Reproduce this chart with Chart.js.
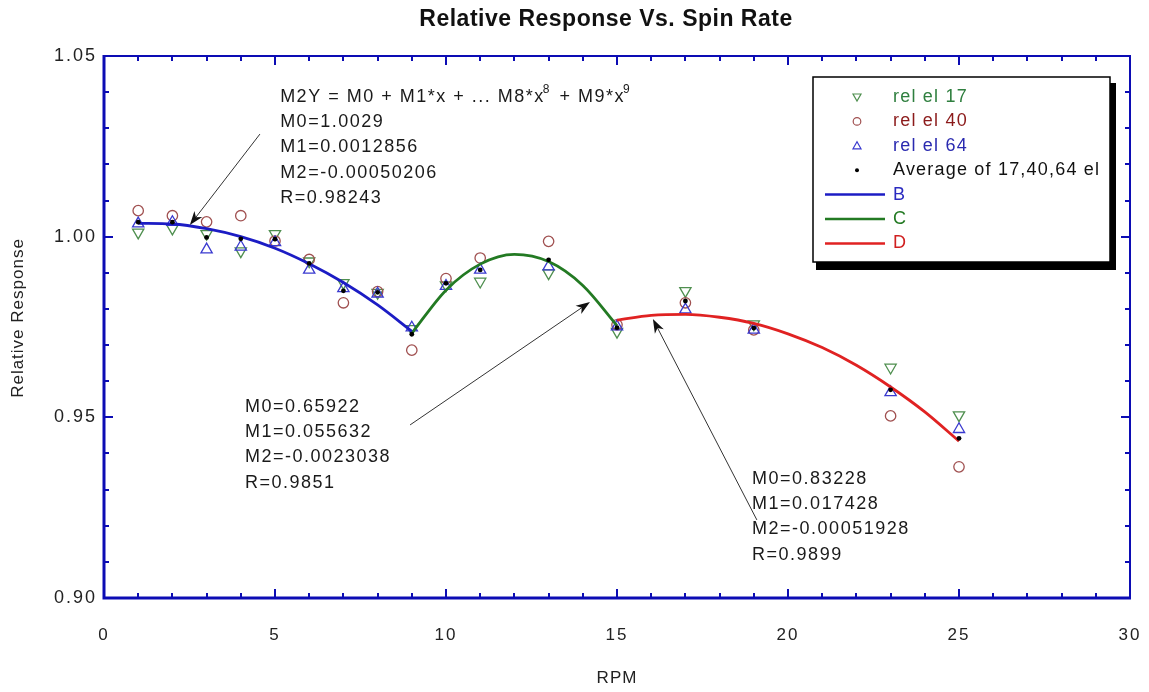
<!DOCTYPE html>
<html><head><meta charset="utf-8">
<script src="https://cdn.jsdelivr.net/npm/chart.js@4.4.1/dist/chart.umd.min.js"></script>
<style>html,body{margin:0;padding:0;background:#fff;}#wrap{width:1149px;height:692px;}</style>
</head><body><div id="wrap"><canvas id="c" width="1149" height="692"></canvas></div>
<script>
// ---- data ----
const rpm   = [1, 2, 3, 4, 5, 6, 7, 8, 9, 10, 11, 13, 15, 17, 19, 23, 25];
const rel17 = [1.0012, 1.0023, 1.0008, 0.9960, 1.0008, 0.9932, 0.9872, 0.9845, 0.9745, 0.9866, 0.9876, 0.9899, 0.9737, 0.9850, 0.9758, 0.9638, 0.9506];
const rel40 = [1.0072, 1.0058, 1.0041, 1.0058, 0.9988, 0.9937, 0.9817, 0.9848, 0.9686, 0.9884, 0.9941, 0.9987, 0.9756, 0.9817, 0.9742, 0.9504, 0.9363];
const rel64 = [1.0036, 1.0040, 0.9964, 0.9972, 0.9984, 0.9908, 0.9857, 0.9842, 0.9748, 0.9863, 0.9908, 0.9917, 0.9751, 0.9798, 0.9742, 0.9569, 0.9467];
const avgEl = [1.0040, 1.0040, 0.9998, 0.9994, 0.9993, 0.9926, 0.9850, 0.9846, 0.9730, 0.9871, 0.9908, 0.9936, 0.9748, 0.9822, 0.9747, 0.9576, 0.9442];

const fitBx = [1, 2, 3, 4, 5, 6, 7, 8, 9];
const fitBy = [1.0037, 1.0035, 1.0022, 1.0000, 0.9968, 0.9925, 0.9873, 0.9811, 0.9738];
const fitCx = [9, 10, 11, 12, 13, 14, 15];
const fitCy = [0.9733, 0.9852, 0.9924, 0.9951, 0.9931, 0.9865, 0.9754];
const fitDx = [15, 16, 17, 18, 19, 20, 21, 22, 23, 24, 25];
const fitDy = [0.9769, 0.9782, 0.9785, 0.9777, 0.9760, 0.9731, 0.9693, 0.9644, 0.9584, 0.9515, 0.9434];

const xTicks = [0, 5, 10, 15, 20, 25, 30];
const yTicks = [0.90, 0.95, 1.00, 1.05];

const seriesNames = ["rel el 17", "rel el 40", "rel el 64", "Average of 17,40,64 el", "B", "C", "D"];
const noteB = ["M0=1.0029", "M1=0.0012856", "M2=-0.00050206", "R=0.98243"];
const noteC = ["M0=0.65922", "M1=0.055632", "M2=-0.0023038", "R=0.9851"];
const noteD = ["M0=0.83228", "M1=0.017428", "M2=-0.00051928", "R=0.9899"];
// annotation anchors in data units [x, y]
const noteBpos = [5.15, 1.0387];
const noteCpos = [4.12, 0.9529];
const noteDpos = [18.95, 0.9330];
const arrows = [
  [[4.56, 1.0284], [2.51, 1.0032]],
  [[8.95, 0.9479], [14.21, 0.9819]],
  [[19.09, 0.9216], [16.05, 0.9772]]
];

const C17 = '#4f8f4f', C40 = '#a05050', C64 = '#3a3acf';
const CB = '#1c1cc4', CC = '#237a23', CD = '#e02222';
const FRAME = '#0c0cb4';
const FONT = '"Liberation Sans", Arial, sans-serif';

const pts = (xs, ys) => xs.map((x, i) => ({x: x, y: ys[i]}));

const spacing = {
  id: 'spacing',
  beforeDraw(chart) { chart.ctx.letterSpacing = '2px'; }
};

const decor = {
  id: 'decor',
  afterDraw(chart) {
    const ctx = chart.ctx, a = chart.chartArea;
    const xs = chart.scales.x, ys = chart.scales.y;
    ctx.save();
    ctx.letterSpacing = '0px';
    // ticks (inward)
    ctx.strokeStyle = FRAME; ctx.lineWidth = 2;
    for (let i = 0; i <= 15; i++) {
      const v = 0.90 + i * 0.01, py = Math.round(ys.getPixelForValue(v));
      const L = (i % 5 === 0) ? 9 : 5;
      ctx.beginPath(); ctx.moveTo(a.left, py); ctx.lineTo(a.left + L, py);
      ctx.moveTo(a.right, py); ctx.lineTo(a.right - L, py); ctx.stroke();
    }
    for (let i = 0; i <= 30; i++) {
      const px = Math.round(xs.getPixelForValue(i));
      const L = (i % 5 === 0) ? 9 : 5;
      ctx.beginPath(); ctx.moveTo(px, a.bottom); ctx.lineTo(px, a.bottom - L);
      ctx.moveTo(px, a.top); ctx.lineTo(px, a.top + L); ctx.stroke();
    }
    // frame
    ctx.lineWidth = 2;
    ctx.beginPath(); ctx.moveTo(a.left, a.top); ctx.lineTo(a.right, a.top); ctx.lineTo(a.right, a.bottom); ctx.stroke();
    ctx.lineWidth = 3;
    ctx.beginPath(); ctx.moveTo(a.left, a.top - 1); ctx.lineTo(a.left, a.bottom); ctx.lineTo(a.right + 1, a.bottom); ctx.stroke();

    // title and axis titles
    ctx.fillStyle = '#111';
    ctx.textAlign = 'center'; ctx.textBaseline = 'middle';
    ctx.font = 'bold 23px ' + FONT;
    ctx.letterSpacing = '0.5px';
    ctx.fillText('Relative Response Vs. Spin Rate', (a.left + a.right) / 2 - 11, 20);
    ctx.font = '17px ' + FONT; ctx.fillStyle = '#222';
    ctx.letterSpacing = '1px';
    ctx.fillText('RPM', (a.left + a.right) / 2, 678);
    ctx.save(); ctx.translate(18, 318); ctx.rotate(-Math.PI / 2);
    ctx.fillText('Relative Response', 0, 0); ctx.restore();

    // annotations
    const F = '18px ' + FONT;
    ctx.font = F; ctx.fillStyle = '#1a1a1a';
    ctx.letterSpacing = '1.5px';
    ctx.textAlign = 'left';
    const LH = 25.3;
    const bx = xs.getPixelForValue(noteBpos[0]), by = ys.getPixelForValue(noteBpos[1]);
    let cx = bx;
    const seg = (t, sup) => {
      if (sup) { ctx.font = '12px ' + FONT; ctx.fillText(t, cx - 2, by - 7); cx += ctx.measureText(t).width; ctx.font = F; }
      else { ctx.fillText(t, cx, by); cx += ctx.measureText(t).width; }
    };
    seg('M2Y = M0 + M1*x + ... M8*x'); seg('8', true); seg(' + M9*x'); seg('9', true);
    noteB.forEach((t, i) => ctx.fillText(t, bx, by + LH * (i + 1)));
    const cxp = xs.getPixelForValue(noteCpos[0]), cyp = ys.getPixelForValue(noteCpos[1]);
    noteC.forEach((t, i) => ctx.fillText(t, cxp, cyp + LH * i));
    const dxp = xs.getPixelForValue(noteDpos[0]), dyp = ys.getPixelForValue(noteDpos[1]);
    noteD.forEach((t, i) => ctx.fillText(t, dxp, dyp + LH * i));

    // arrows
    ctx.strokeStyle = '#333'; ctx.fillStyle = '#111'; ctx.lineWidth = 1;
    arrows.forEach(([s, e]) => {
      const x0 = xs.getPixelForValue(s[0]), y0 = ys.getPixelForValue(s[1]);
      const x1 = xs.getPixelForValue(e[0]), y1 = ys.getPixelForValue(e[1]);
      const ang = Math.atan2(y1 - y0, x1 - x0);
      ctx.beginPath(); ctx.moveTo(x0, y0); ctx.lineTo(x1 - 8 * Math.cos(ang), y1 - 8 * Math.sin(ang)); ctx.stroke();
      const hl = 14, hw = 5;
      ctx.beginPath(); ctx.moveTo(x1, y1);
      ctx.lineTo(x1 - hl * Math.cos(ang) + hw * Math.sin(ang), y1 - hl * Math.sin(ang) - hw * Math.cos(ang));
      ctx.lineTo(x1 - (hl - 4) * Math.cos(ang), y1 - (hl - 4) * Math.sin(ang));
      ctx.lineTo(x1 - hl * Math.cos(ang) - hw * Math.sin(ang), y1 - hl * Math.sin(ang) + hw * Math.cos(ang));
      ctx.closePath(); ctx.fill();
    });

    // legend box
    const L0 = a.right - 317, T0 = a.top + 21, W = 297, H = 185;
    ctx.fillStyle = '#000';
    ctx.fillRect(L0 + 3, T0 + 6, W + 3, H + 2);
    ctx.fillStyle = '#fff'; ctx.fillRect(L0, T0, W, H);
    ctx.strokeStyle = '#000'; ctx.lineWidth = 1.5; ctx.strokeRect(L0, T0, W, H);
    const mx = L0 + 44, tx = L0 + 80;
    const rowY = i => T0 + 20 + i * 24.4;
    const textCols = ['#2f7f3f', '#8b1a1a', '#2a2ab0', '#111', '#2a2ac0', '#237a23', '#d02020'];
    ctx.font = '18px ' + FONT; ctx.textBaseline = 'middle'; ctx.textAlign = 'left';
    ctx.letterSpacing = '1.2px';
    seriesNames.forEach((n, i) => { ctx.fillStyle = textCols[i]; ctx.fillText(n, tx, rowY(i)); });
    ctx.lineWidth = 1.2;
    let y = rowY(0); ctx.strokeStyle = C17; ctx.beginPath(); ctx.moveTo(mx - 4, y - 3); ctx.lineTo(mx + 4, y - 3); ctx.lineTo(mx, y + 4); ctx.closePath(); ctx.stroke();
    y = rowY(1); ctx.strokeStyle = C40; ctx.beginPath(); ctx.arc(mx, y, 3.8, 0, Math.PI * 2); ctx.stroke();
    y = rowY(2); ctx.strokeStyle = C64; ctx.beginPath(); ctx.moveTo(mx - 4, y + 3); ctx.lineTo(mx + 4, y + 3); ctx.lineTo(mx, y - 4); ctx.closePath(); ctx.stroke();
    y = rowY(3); ctx.fillStyle = '#000'; ctx.beginPath(); ctx.arc(mx, y, 2, 0, Math.PI * 2); ctx.fill();
    [CB, CC, CD].forEach((c, k) => {
      const yy = rowY(4 + k); ctx.strokeStyle = c; ctx.lineWidth = 2.5;
      ctx.beginPath(); ctx.moveTo(L0 + 12, yy); ctx.lineTo(L0 + 72, yy); ctx.stroke();
    });
    ctx.restore();
  }
};

const mk = (label, data, opts) => Object.assign({label: label, data: data, showLine: false}, opts);

new Chart(document.getElementById('c'), {
  type: 'scatter',
  data: {
    datasets: [
      mk(seriesNames[0], pts(rpm, rel17), {pointStyle: 'triangle', rotation: 180, radius: 6.5, borderColor: C17, backgroundColor: 'rgba(0,0,0,0)', borderWidth: 1.3, order: 6}),
      mk(seriesNames[1], pts(rpm, rel40), {pointStyle: 'circle', radius: 5.2, borderColor: C40, backgroundColor: 'rgba(0,0,0,0)', borderWidth: 1.3, order: 5}),
      mk(seriesNames[2], pts(rpm, rel64), {pointStyle: 'triangle', radius: 6.5, borderColor: C64, backgroundColor: 'rgba(0,0,0,0)', borderWidth: 1.3, order: 4}),
      mk(seriesNames[4], pts(fitBx, fitBy), {showLine: true, radius: 0, borderColor: CB, borderWidth: 2.8, cubicInterpolationMode: 'monotone', order: 3}),
      mk(seriesNames[5], pts(fitCx, fitCy), {showLine: true, radius: 0, borderColor: CC, borderWidth: 2.8, cubicInterpolationMode: 'monotone', order: 3}),
      mk(seriesNames[6], pts(fitDx, fitDy), {showLine: true, radius: 0, borderColor: CD, borderWidth: 2.8, cubicInterpolationMode: 'monotone', order: 3}),
      mk(seriesNames[3], pts(rpm, avgEl), {pointStyle: 'circle', radius: 2.4, borderWidth: 0, backgroundColor: '#000', borderColor: '#000', order: 1})
    ]
  },
  options: {
    responsive: false, animation: false, devicePixelRatio: 1,
    layout: {padding: {left: 0, top: 56, right: 19, bottom: 0}},
    plugins: {legend: {display: false}, title: {display: false}, tooltip: {enabled: false}},
    scales: {
      x: {
        type: 'linear', min: 0, max: 30,
        afterFit: s => { s.height = 94; s.paddingLeft = 0; s.paddingRight = 0; },
        afterBuildTicks: s => { s.ticks = xTicks.map(v => ({value: v})); },
        grid: {display: false, drawTicks: false}, border: {display: false},
        ticks: {padding: 27, color: '#222', font: {family: FONT, size: 17}, maxRotation: 0}
      },
      y: {
        type: 'linear', min: 0.90, max: 1.05,
        afterFit: s => { s.width = 104; s.paddingTop = 0; s.paddingBottom = 0; },
        afterBuildTicks: s => { s.ticks = yTicks.map(v => ({value: v})); },
        grid: {display: false, drawTicks: false}, border: {display: false},
        ticks: {padding: 7, color: '#222', font: {family: FONT, size: 18}, callback: v => Number(v).toFixed(2)}
      }
    }
  },
  plugins: [spacing, decor]
});
</script></body></html>
